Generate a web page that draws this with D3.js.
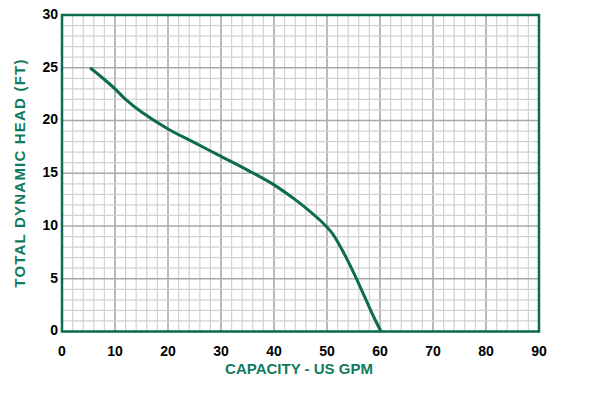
<!doctype html>
<html>
  <head>
    <meta charset="utf-8">
    <title>pump curve</title>
    <script src="https://d3js.org/d3.v7.min.js"></script>
    <style type="text/css">
      body { margin: 0; background-color: #ffffff }
      text { font-family: "Liberation Sans", Arial, sans-serif; font-weight: bold }
    </style>
  </head>
  <body>
    <script>
      // data
      var capacity = [5.3, 7.5, 10, 12, 15, 20, 25, 30, 35, 40, 44, 47, 49, 51, 53, 55, 57, 58.8, 60.2];
      var head     = [25, 24.1, 23.0, 22.0, 20.8, 19.2, 17.9, 16.6, 15.3, 13.9, 12.5, 11.3, 10.4, 9.3, 7.6, 5.6, 3.4, 1.4, 0];
      var xTicks = [0, 10, 20, 30, 40, 50, 60, 70, 80, 90];
      var yTicks = [0, 5, 10, 15, 20, 25, 30];

      var w = 600, h = 400;
      var green = "#0d6b50";

      var x = d3.scaleLinear().domain([0, 90]).range([62, 539]);
      var y = d3.scaleLinear().domain([0, 30]).range([331.5, 15]);

      var svg = d3.select("body").append("svg")
        .attr("width", w).attr("height", h);

      // minor grid
      var grid = svg.append("g");
      grid.selectAll("line.vx")
        .data(d3.range(0, 91, 2))
        .enter().append("line")
        .attr("x1", d => x(d)).attr("x2", d => x(d))
        .attr("y1", y(0)).attr("y2", y(30))
        .style("stroke", d => d % 10 === 0 ? "#a9a9ad" : "#d2d2d4")
        .style("stroke-width", d => d % 10 === 0 ? 1.6 : 1.2);
      grid.selectAll("line.hy")
        .data(d3.range(0, 31, 1))
        .enter().append("line")
        .attr("y1", d => y(d)).attr("y2", d => y(d))
        .attr("x1", x(0)).attr("x2", x(90))
        .style("stroke", d => d % 5 === 0 ? "#a9a9ad" : "#d2d2d4")
        .style("stroke-width", d => d % 5 === 0 ? 1.6 : 1.2);

      // frame
      svg.append("rect")
        .attr("x", x(0)).attr("y", y(30))
        .attr("width", x(90) - x(0)).attr("height", y(0) - y(30))
        .style("fill", "none").style("stroke", green).style("stroke-width", 2.5);

      // curve
      var line = d3.line()
        .x((d, i) => x(capacity[i]))
        .y((d, i) => y(head[i]))
        .curve(d3.curveCatmullRom.alpha(0.5));
      svg.append("path")
        .attr("d", line(capacity))
        .style("fill", "none").style("stroke", green).style("stroke-width", 3);

      // tick labels
      svg.selectAll("text.xt")
        .data(xTicks).enter().append("text")
        .attr("x", d => x(d)).attr("y", 351)
        .attr("dy", "0.35em")
        .attr("text-anchor", "middle")
        .style("font-size", "14px").style("fill", "#000")
        .text(d => d);
      svg.selectAll("text.yt")
        .data(yTicks).enter().append("text")
        .attr("x", 58).attr("y", d => y(d) - 1)
        .attr("dy", "0.35em")
        .attr("text-anchor", "end")
        .style("font-size", "14px").style("fill", "#000")
        .text(d => d);

      // axis titles
      svg.append("text")
        .attr("x", 299).attr("y", 374)
        .attr("text-anchor", "middle")
        .style("font-size", "15px").style("fill", "#137a5a")
        .text("CAPACITY - US GPM");
      svg.append("text")
        .attr("transform", "translate(25,173) rotate(-90)")
        .attr("text-anchor", "middle")
        .style("font-size", "15px").style("letter-spacing", "1.2px").style("fill", "#137a5a")
        .text("TOTAL DYNAMIC HEAD (FT)");
    </script>
  </body>
</html>
